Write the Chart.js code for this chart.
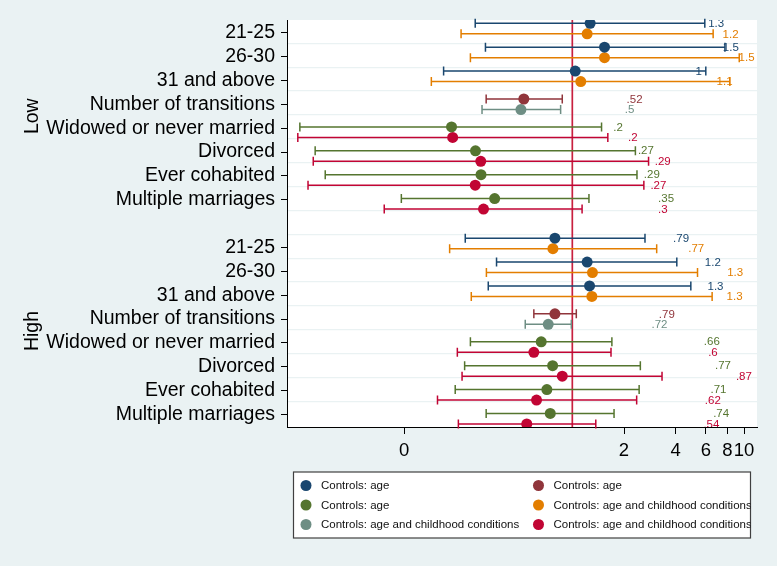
<!DOCTYPE html>
<html>
<head>
<meta charset="utf-8">
<script src="https://cdn.jsdelivr.net/npm/chart.js"></script>
<style>
  html, body { margin: 0; padding: 0; background: #eaf2f3; }
</style>
</head>
<body>
<canvas id="coefchart" width="777" height="566"></canvas>
<script>

// rows of the y axis, top to bottom ("" = gap between the two groups)
var rowLabels = [
  "21-25", "26-30", "31 and above", "Number of transitions",
  "Widowed or never married", "Divorced", "Ever cohabited", "Multiple marriages",
  "",
  "21-25", "26-30", "31 and above", "Number of transitions",
  "Widowed or never married", "Divorced", "Ever cohabited", "Multiple marriages"
];
var groupNames = ["Low", "High"];
var groupFirst = [0, 9];
var groupLast = [7, 16];

var ageRows = [0, 1, 2, 9, 10, 11];
var transRows = [3, 12];
var marRows = [4, 5, 6, 7, 13, 14, 15, 16];

var xTickValues = [0.105, 2, 4, 6, 8, 10];

// age at first marriage, controls: age / age and childhood conditions
var ageM1Est = [1.27, 1.54, 1.04, 0.792, 1.22, 1.26];
var ageM1Lo = [0.272, 0.312, 0.178, 0.238, 0.362, 0.324];
var ageM1Hi = [5.91, 7.74, 5.99, 2.65, 4.06, 4.90];
var ageM1LabelAt = [6.18, 7.53, 5.22, 3.86, 5.91, 6.13];

var ageM2Est = [1.22, 1.54, 1.12, 0.771, 1.31, 1.30];
var ageM2Lo = [0.225, 0.255, 0.151, 0.193, 0.316, 0.258];
var ageM2Hi = [6.61, 9.38, 8.27, 3.10, 5.36, 6.52];
var ageM2LabelAt = [7.50, 9.30, 6.92, 4.73, 7.98, 7.91];

// number of transitions
var transM1Est = [0.522, 0.792];
var transM1Lo = [0.315, 0.597];
var transM1Hi = [0.874, 1.055];
var transM1LabelAt = [2.07, 3.19];

var transM2Est = [0.502, 0.724];
var transM2Lo = [0.298, 0.532];
var transM2Hi = [0.855, 0.987];
var transM2LabelAt = [2.02, 2.89];

// marital history
var marM1Est = [0.198, 0.273, 0.294, 0.353, 0.659, 0.768, 0.711, 0.744];
var marM1Lo = [0.0259, 0.0318, 0.0364, 0.101, 0.255, 0.236, 0.208, 0.315];
var marM1Hi = [1.48, 2.33, 2.38, 1.25, 1.70, 2.49, 2.45, 1.75];
var marM1LabelAt = [1.73, 2.41, 2.61, 3.16, 5.83, 6.77, 6.38, 6.61];

var marM2Est = [0.201, 0.293, 0.272, 0.304, 0.597, 0.874, 0.619, 0.543];
var marM2Lo = [0.0252, 0.031, 0.0289, 0.0803, 0.214, 0.228, 0.164, 0.217];
var marM2Hi = [1.61, 2.78, 2.61, 1.14, 1.68, 3.33, 2.37, 1.37];
var marM2LabelAt = [2.11, 3.02, 2.85, 3.16, 6.18, 8.97, 5.91, 5.80];

var FONT = "'Liberation Sans', Arial, sans-serif";
var BG = "#eaf2f3";

function series(name, color, rows, est, lo, hi, labelAt, shift) {
  return {
    label: name,
    backgroundColor: color,
    borderColor: color,
    pointRadius: 5.5,
    pointHoverRadius: 5.5,
    pointBorderWidth: 0,
    data: rows.map(function (r, i) {
      return { x: est[i], y: r + shift, lo: lo[i], hi: hi[i], labelAt: labelAt[i] };
    })
  };
}

// stata style %9.2g
function fmt(v) {
  var s = String(Number(v.toPrecision(2)));
  return s.replace(/^0\./, ".");
}

var coefPlugin = {
  id: "coef",
  beforeDraw: function (chart) {
    var ctx = chart.ctx, a = chart.chartArea;
    ctx.save();
    ctx.fillStyle = BG;
    ctx.fillRect(0, 0, chart.width, chart.height);
    ctx.fillStyle = "#ffffff";
    ctx.fillRect(a.left, a.top, a.right - a.left, a.bottom - a.top);
    ctx.restore();
  },
  beforeDatasetsDraw: function (chart) {
    var ctx = chart.ctx, xs = chart.scales.x, ys = chart.scales.y, a = chart.chartArea;
    ctx.save();
    var x1 = xs.getPixelForValue(1);
    ctx.strokeStyle = "#c8203f";
    ctx.lineWidth = 1.7;
    ctx.beginPath();
    ctx.moveTo(x1, a.top);
    ctx.lineTo(x1, a.bottom);
    ctx.stroke();

    chart.data.datasets.forEach(function (ds) {
      ctx.strokeStyle = ds.borderColor;
      ctx.lineWidth = 1.5;
      ds.data.forEach(function (p) {
        var y = ys.getPixelForValue(p.y);
        var l = xs.getPixelForValue(p.lo), r = xs.getPixelForValue(p.hi);
        ctx.beginPath();
        ctx.moveTo(l, y); ctx.lineTo(r, y);
        ctx.moveTo(l, y - 4.5); ctx.lineTo(l, y + 4.5);
        ctx.moveTo(r, y - 4.5); ctx.lineTo(r, y + 4.5);
        ctx.stroke();
      });
    });
    ctx.restore();
  },
  afterDatasetsDraw: function (chart) {
    var ctx = chart.ctx, xs = chart.scales.x, ys = chart.scales.y, a = chart.chartArea;
    ctx.save();
    ctx.beginPath();
    ctx.rect(a.left, a.top, a.right - a.left, a.bottom - a.top);
    ctx.clip();
    ctx.font = "11.5px " + FONT;
    ctx.textAlign = "left";
    ctx.textBaseline = "middle";
    chart.data.datasets.forEach(function (ds) {
      ctx.fillStyle = ds.borderColor;
      ds.data.forEach(function (p) {
        ctx.fillText(fmt(p.x), xs.getPixelForValue(p.labelAt), ys.getPixelForValue(p.y) + 0.5);
      });
    });
    ctx.restore();
  },
  afterDraw: function (chart) {
    var ctx = chart.ctx, ys = chart.scales.y, a = chart.chartArea;
    ctx.save();

    // group titles
    ctx.fillStyle = "#000";
    ctx.font = "19.5px " + FONT;
    ctx.textAlign = "center";
    ctx.textBaseline = "middle";
    groupNames.forEach(function (g, i) {
      var yc = (ys.getPixelForValue(groupFirst[i]) + ys.getPixelForValue(groupLast[i])) / 2;
      ctx.save();
      ctx.translate(33, yc);
      ctx.rotate(-Math.PI / 2);
      ctx.fillText(g, 0, 0);
      ctx.restore();
    });

    // legend, two columns filled row by row
    var bx = a.left + 6.5, by = 472, bw = 457, bh = 66;
    ctx.fillStyle = "#ffffff";
    ctx.fillRect(bx, by, bw, bh);
    ctx.strokeStyle = "#404040";
    ctx.lineWidth = 1.2;
    ctx.strokeRect(bx, by, bw, bh);

    ctx.beginPath();
    ctx.rect(bx, by, bw, bh);
    ctx.clip();
    ctx.font = "11.5px " + FONT;
    ctx.textAlign = "left";
    chart.data.datasets.forEach(function (ds, i) {
      var col = i % 2, row = Math.floor(i / 2);
      var mx = bx + 12.5 + col * 232.5;
      var my = by + 13.5 + row * 19.5;
      ctx.fillStyle = ds.backgroundColor;
      ctx.beginPath();
      ctx.arc(mx, my, 5.5, 0, Math.PI * 2);
      ctx.fill();
      ctx.fillStyle = "#111";
      ctx.fillText(ds.label, mx + 15, my + 0.5);
    });
    ctx.restore();
  }
};

var gridRows = [];
for (var g = 0; g < rowLabels.length - 1; g++) gridRows.push(g + 0.45);

new Chart("coefchart", {
  type: "scatter",
  data: {
    datasets: [
      series("Controls: age", "#1a476f", ageRows, ageM1Est, ageM1Lo, ageM1Hi, ageM1LabelAt, -0.39),
      series("Controls: age", "#90353b", transRows, transM1Est, transM1Lo, transM1Hi, transM1LabelAt, -0.22),
      series("Controls: age", "#55752f", marRows, marM1Est, marM1Lo, marM1Hi, marM1LabelAt, -0.05),
      series("Controls: age and childhood conditions", "#e37e00", ageRows, ageM2Est, ageM2Lo, ageM2Hi, ageM2LabelAt, 0.05),
      series("Controls: age and childhood conditions", "#6e8e84", transRows, transM2Est, transM2Lo, transM2Hi, transM2LabelAt, 0.22),
      series("Controls: age and childhood conditions", "#c10534", marRows, marM2Est, marM2Lo, marM2Hi, marM2LabelAt, 0.39)
    ]
  },
  plugins: [coefPlugin],
  options: {
    responsive: false,
    animation: false,
    events: [],
    layout: { padding: { left: 0, top: 20, right: 20, bottom: 99 } },
    plugins: {
      legend: { display: false },
      tooltip: { enabled: false }
    },
    scales: {
      x: {
        type: "logarithmic",
        min: 0.0218,
        max: 11.9,
        afterBuildTicks: function (s) {
          s.ticks = xTickValues.map(function (v) { return { value: v }; });
        },
        ticks: {
          autoSkip: false,
          maxRotation: 0,
          color: "#000",
          padding: 6,
          font: { family: FONT, size: 18.5 },
          callback: function (v) { return String(Math.round(v)); }
        },
        grid: { drawOnChartArea: false, tickLength: 7, tickColor: "#000" },
        border: { color: "#000", width: 1 },
        afterFit: function (s) { s.height = 40; }
      },
      y: {
        type: "linear",
        reverse: true,
        min: -0.53,
        max: 16.52,
        afterBuildTicks: function (s) {
          var t = [];
          rowLabels.forEach(function (l, i) { if (l !== "") t.push({ value: i }); });
          s.ticks = t;
        },
        ticks: {
          autoSkip: false,
          color: "#000",
          padding: 6,
          font: { family: FONT, size: 19.5 },
          callback: function (v) { return rowLabels[v]; }
        },
        grid: { drawOnChartArea: false, tickLength: 6, tickColor: "#000" },
        border: { color: "#000", width: 1 },
        afterFit: function (s) { s.width = 287; }
      },
      yg: {
        type: "linear",
        position: "left",
        reverse: true,
        min: -0.53,
        max: 16.52,
        afterBuildTicks: function (s) {
          s.ticks = gridRows.map(function (v) { return { value: v }; });
        },
        ticks: { display: false },
        grid: { color: BG, lineWidth: 1.3, drawTicks: false },
        border: { display: false },
        afterFit: function (s) { s.width = 0; }
      }
    }
  }
});
</script>
</body>
</html>
